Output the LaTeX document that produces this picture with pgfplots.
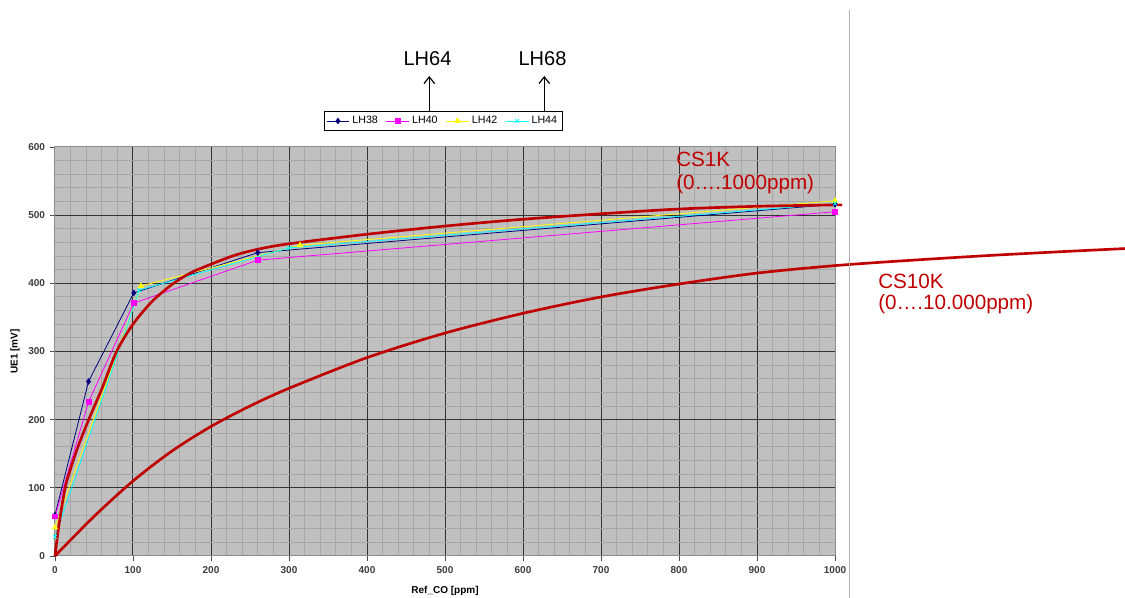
\documentclass[border=0pt]{standalone}
\usepackage{pgfplots}
\pgfplotsset{compat=1.18}
\usepackage{fontspec}
\setmainfont{Liberation Sans}
\usetikzlibrary{arrows.meta}

\definecolor{csred}{RGB}{192,0,0}
\definecolor{plotbg}{RGB}{192,192,192}
\definecolor{lhnavy}{RGB}{0,0,128}
\definecolor{lhmag}{RGB}{255,0,255}
\definecolor{lhyel}{RGB}{255,255,0}
\definecolor{lhcyan}{RGB}{0,255,255}
\definecolor{ticktext}{RGB}{60,60,60}

\begin{document}
% 1 unit = 1 px of the reference (0.75pt); origin = lower left corner of the plot area
\begin{tikzpicture}[x=0.75pt,y=0.75pt]
\begin{axis}[
    name=ax, at={(0,0)}, anchor=south west,
    scale only axis, width=585pt, height=306.75pt,
    xmin=0, xmax=1000, ymin=0, ymax=600,
    xtick distance=100, ytick distance=100,
    minor x tick num=4, minor y tick num=4,
    grid=both,
    major grid style={black!80, line width=0.75pt},
    minor grid style={black!35, line width=0.75pt},
    axis background/.style={fill=plotbg},
    axis line style={black!45, line width=0.75pt},
    tick style={black!70, line width=0.6pt},
    major tick length=4pt, minor tick length=0pt,
    tick align=outside, xtick pos=bottom, ytick pos=left,
    tick label style={font=\fontsize{7.5}{9}\selectfont\bfseries, text=ticktext},
    /pgf/number format/assume math mode=true,
    /pgf/number format/1000 sep={},
    xlabel={Ref\_CO [ppm]}, ylabel={UE1 [mV]},
    label style={font=\fontsize{7.5}{9}\selectfont\bfseries},
    xlabel style={at={(axis description cs:0.5,-0.0856)}, anchor=center},
    ylabel style={at={(axis description cs:-0.0513,0.5)}, anchor=center},
    clip=false,
    legend columns=4,
    legend style={at={(axis description cs:0.4974,1.0636)}, anchor=center,
        font=\fontsize{8}{9}\selectfont, draw=black, fill=white,
        inner sep=1.5pt,
        /tikz/every even column/.append style={column sep=4pt}},
]

\addplot[lhnavy, line width=0.6pt, mark=diamond*, mark size=2pt]
    coordinates {(0,60)(43,256)(101,386)(260,445)(1000,516)};
\addlegendentry{LH38}
\addplot[lhmag, line width=0.6pt, mark=square*, mark size=1.8pt]
    coordinates {(0,58)(43,226)(101,371)(260,434)(1000,505)};
\addlegendentry{LH40}
\addplot[lhyel, line width=0.6pt, mark=triangle*, mark size=2.2pt]
    coordinates {(0,42)(110,396)(314,456)(1000,521)};
\addlegendentry{LH42}
\addplot[lhcyan, line width=0.6pt, mark=x, mark size=2pt]
    coordinates {(0,28)(108,390)(300,452)(1000,517)};
\addlegendentry{LH44}

% CS1K characteristic
\addplot[csred, line width=2pt, smooth, forget plot]
    coordinates {(0,0)(5,45)(13,100)(20,128)(30,162)(45,205)(60,245)(79,300)
    (100,340)(125,374)(152,400)(175,416)(200,428)(230,441)(260,450)(300,458)
    (400,472)(500,484)(600,494)(700,502)(800,509)(900,513)(1000,515)(1007,515)};
% CS10K characteristic
\addplot[csred, line width=2pt, smooth, forget plot]
    coordinates {(0,0)(50,58)(100,110)(150,154)(200,190)(250,220)(300,246)
    (400,291)(500,327)(600,356)(700,380)(800,399)(900,415)(1000,426)(1100,434)
    (1200,441)(1300,447)(1372,451)};
\end{axis}

\node[anchor=base, inner sep=0pt, font=\fontsize{15}{18}\selectfont] at (372.5,490) {LH64};
\node[anchor=base, inner sep=0pt, font=\fontsize{15}{18}\selectfont] at (487.5,490) {LH68};
\draw[-{Straight Barb[length=5pt,width=8pt]}, line width=0.9pt] (374.3,444) -- (374.3,480);
\draw[-{Straight Barb[length=5pt,width=8pt]}, line width=0.9pt] (489.3,444) -- (489.3,480);

\node[anchor=base west, inner sep=0pt, text=csred, font=\fontsize{15.5}{18}\selectfont] at (621,389) {CS1K};
\node[anchor=base west, inner sep=0pt, text=csred, font=\fontsize{15.5}{18}\selectfont] at (621,366) {(0….1000ppm)};
\node[anchor=base west, inner sep=0pt, text=csred, font=\fontsize{15.5}{18}\selectfont] at (823,267) {CS10K};
\node[anchor=base west, inner sep=0pt, text=csred, font=\fontsize{15.5}{18}\selectfont] at (823,246) {(0….10.000ppm)};

\draw[black!30, line width=0.75pt] (794,546) -- (794,-42);

\pgfresetboundingbox
\path[use as bounding box] (-55,-42) rectangle (1070,556);
\end{tikzpicture}
\end{document}
